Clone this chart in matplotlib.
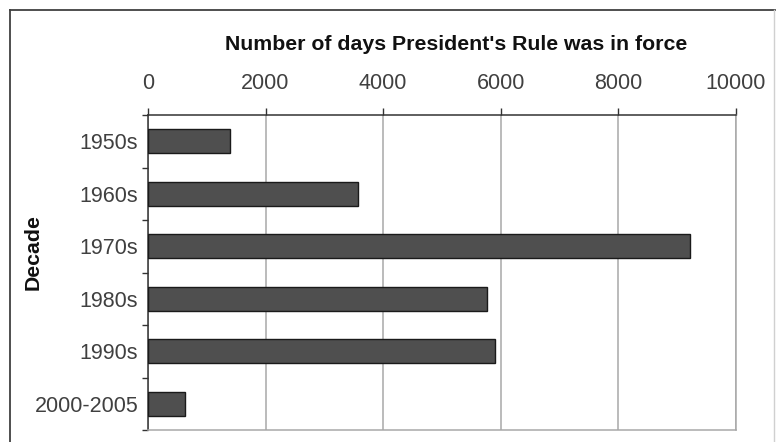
import matplotlib.pyplot as plt
from matplotlib.ticker import FixedLocator

# days under President's Rule, per decade
decades = ['1950s', '1960s', '1970s', '1980s', '1990s', '2000-2005']
days = [1390, 3580, 9230, 5760, 5900, 630]
x_ticks = [0, 2000, 4000, 6000, 8000, 10000]

plt.rcParams['font.family'] = ['Liberation Sans', 'DejaVu Sans']

W, H = 776, 442
fig = plt.figure(figsize=(W / 100, H / 100), dpi=100, facecolor='white')
ax = fig.add_axes([148 / W, 1 - 430 / H, (735.7 - 148) / W, (430 - 115) / H])

pos = list(range(len(decades)))
ax.barh(pos, days, height=0.46, color='#4f4f4f', edgecolor='#1a1a1a', linewidth=1.0, zorder=3)

ax.set_xlim(0, 10000)
ax.set_ylim(len(decades) - 0.5, -0.5)

# value axis on top, grey gridlines
ax.xaxis.tick_top()
ax.set_xticks(x_ticks)
ax.set_xticklabels([str(t) for t in x_ticks])
ax.tick_params(axis='x', which='major', direction='out', length=5, width=1.0,
               color='#333333', labelsize=15.5, labelcolor='#404040', pad=10)
ax.grid(axis='x', color='#a8a8a8', linewidth=1.1, zorder=0)

# category labels centred in bands, tick marks on the band edges
ax.set_yticks(pos)
ax.set_yticklabels(decades)
ax.yaxis.set_minor_locator(FixedLocator([p - 0.5 for p in range(len(decades) + 1)]))
ax.tick_params(axis='y', which='major', length=0, labelsize=15.5, labelcolor='#404040', pad=7)
ax.tick_params(axis='y', which='minor', direction='out', length=4.3, width=1.0, color='#333333')

ax.spines['top'].set_color('#333333')
ax.spines['left'].set_color('#333333')
ax.spines['right'].set_color('#a8a8a8')
ax.spines['bottom'].set_color('#a8a8a8')
for s in ax.spines.values():
    s.set_linewidth(1.1)

fig.text(456 / W, 1 - 45 / H, "Number of days President's Rule was in force",
         ha='center', va='center', fontsize=15.3, fontweight='bold', color='#111111')
fig.text(33 / W, 1 - 252 / H, 'Decade', ha='center', va='center', rotation=90,
         fontsize=15.3, fontweight='bold', color='#111111')

# outer chart border
fig.add_artist(plt.Line2D([9.5 / W, 9.5 / W], [0, 1 - 10 / H], color='#404040', linewidth=1.3))
fig.add_artist(plt.Line2D([9.5 / W, 775 / W], [1 - 10 / H, 1 - 10 / H], color='#404040', linewidth=1.3))
fig.add_artist(plt.Line2D([773.5 / W, 773.5 / W], [0, 1 - 10 / H], color='#d0d0d0', linewidth=1.0))

fig.savefig('out.png', dpi=100, facecolor='white')
